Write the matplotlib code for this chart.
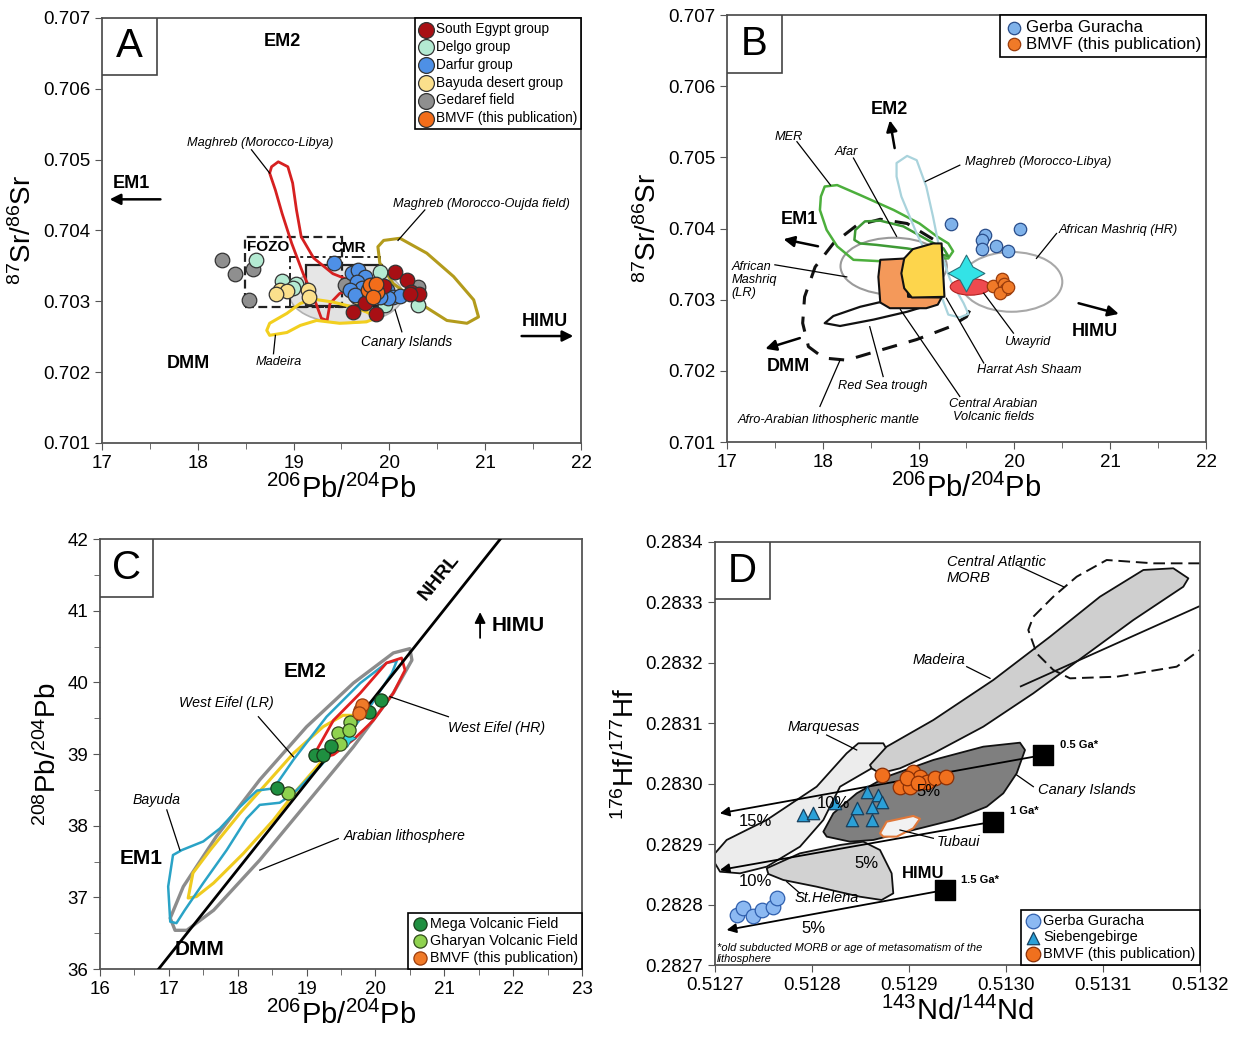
import matplotlib
matplotlib.use('Agg')
import matplotlib.pyplot as plt
from matplotlib.patches import Polygon, Ellipse, Rectangle
from matplotlib.ticker import MultipleLocator, FormatStrFormatter

plt.rcParams['font.family'] = ['Liberation Sans', 'DejaVu Sans']
plt.rcParams['mathtext.default'] = 'regular'

# ---------------- panel A data (206Pb/204Pb vs 87Sr/86Sr) ----------------
a_segypt_x = [20.06, 20.18, 20.23, 20.31, 19.75, 19.62, 19.86, 19.94, 20.22]
a_segypt_y = [0.70342, 0.70330, 0.70313, 0.70311, 0.70298, 0.70285, 0.70282, 0.70321, 0.70311]
a_delgo_x = [18.61, 18.88, 19.03, 18.99, 19.90, 20.30, 19.95]
a_delgo_y = [0.70359, 0.70329, 0.70325, 0.70319, 0.70342, 0.70295, 0.70295]
a_darfur_x = [19.42, 19.61, 19.67, 19.75, 19.66, 19.71, 19.59, 19.64, 19.97, 20.04, 20.11, 19.99, 19.90, 19.82]
a_darfur_y = [0.70354, 0.70340, 0.70344, 0.70334, 0.70327, 0.70319, 0.70316, 0.70309, 0.70316, 0.70306,
              0.70307, 0.70305, 0.70306, 0.70323]
a_bayuda_x = [18.86, 18.93, 19.15, 19.16, 19.66, 18.82]
a_bayuda_y = [0.70316, 0.70314, 0.70316, 0.70306, 0.70306, 0.70311]
a_gedaref_x = [18.25, 18.39, 18.58, 18.53, 19.54, 20.30]
a_gedaref_y = [0.70358, 0.70339, 0.70345, 0.70302, 0.70323, 0.70320]
a_bmvf_x = [19.78, 19.87, 19.80, 19.86, 19.83]
a_bmvf_y = [0.70316, 0.70313, 0.70323, 0.70325, 0.70306]

a_maghreb_libya = [(18.77, 0.70490), (18.84, 0.70497), (18.94, 0.70490), (18.99, 0.70467), (19.03, 0.70429),
                   (19.08, 0.70391), (19.21, 0.70361), (19.41, 0.70339), (19.54, 0.70332), (19.57, 0.70316),
                   (19.48, 0.70311), (19.38, 0.70297), (19.35, 0.70273), (19.29, 0.70276), (19.22, 0.70302),
                   (19.10, 0.70339), (18.98, 0.70382), (18.88, 0.70424), (18.81, 0.70457), (18.75, 0.70481)]
a_maghreb_oujda = [(19.94, 0.70386), (20.11, 0.70389), (20.39, 0.70368), (20.67, 0.70335), (20.88, 0.70302),
                   (20.93, 0.70278), (20.81, 0.70269), (20.60, 0.70273), (20.32, 0.70297), (20.04, 0.70325),
                   (19.90, 0.70354), (19.88, 0.70377)]
a_madeira = [(18.72, 0.70259), (18.75, 0.70269), (18.93, 0.70283), (19.07, 0.70297), (19.21, 0.70303),
             (19.41, 0.70299), (19.62, 0.70292), (19.76, 0.70285), (19.87, 0.70277), (19.76, 0.70271),
             (19.48, 0.70269), (19.24, 0.70273), (19.07, 0.70266), (18.93, 0.70256), (18.75, 0.70252)]
a_canary = (19.55, 0.70309, 1.18, 0.00080)          # centre x, centre y, width, height
a_fozo = (18.49, 0.70292, 19.51, 0.70391)           # x0, y0, x1, y1
a_cmr_dashdot = (18.96, 0.70292, 19.90, 0.70363)
a_cmr_box = (19.13, 0.70293, 19.92, 0.70351)

# ---------------- panel B data ----------------
b_gerba_x = [19.335, 20.06, 19.69, 19.66, 19.66, 19.81, 19.93]
b_gerba_y = [0.70407, 0.70399, 0.70391, 0.70384, 0.70371, 0.70375, 0.70369]
b_bmvf_x = [19.78, 19.87, 19.89, 19.91, 19.85, 19.93]
b_bmvf_y = [0.70319, 0.70329, 0.70322, 0.70315, 0.70310, 0.70318]

b_lith_mantle = [(19.15, 0.70385), (18.88, 0.70407), (18.60, 0.70413), (18.35, 0.70404), (18.11, 0.70379),
                 (17.92, 0.70346), (17.81, 0.70304), (17.79, 0.70267), (17.85, 0.70234), (18.01, 0.70218),
                 (18.25, 0.70215), (18.60, 0.70229), (18.98, 0.70244), (19.33, 0.70262), (19.50, 0.70276),
                 (19.57, 0.70295)]
b_mer = [(18.02, 0.70459), (18.15, 0.70461), (18.39, 0.70447), (18.74, 0.70426), (19.01, 0.70407),
         (19.19, 0.70389), (19.31, 0.70379), (19.36, 0.70368), (19.31, 0.70358), (19.15, 0.70358),
         (18.61, 0.70354), (18.32, 0.70356), (18.15, 0.70375), (18.04, 0.70398), (17.97, 0.70426),
         (17.98, 0.70445)]
b_afar = [(18.34, 0.70398), (18.44, 0.70410), (18.60, 0.70411), (18.84, 0.70403), (19.12, 0.70382),
          (19.26, 0.70372), (19.31, 0.70361), (19.19, 0.70365), (18.88, 0.70372), (18.56, 0.70377),
          (18.39, 0.70379), (18.33, 0.70384)]
b_maghreb = [(18.77, 0.70492), (18.88, 0.70502), (18.98, 0.70496), (19.08, 0.70459), (19.15, 0.70417),
             (19.22, 0.70370), (19.33, 0.70328), (19.47, 0.70295), (19.52, 0.70280), (19.43, 0.70275),
             (19.31, 0.70279), (19.24, 0.70304), (19.15, 0.70346), (18.98, 0.70393), (18.82, 0.70445),
             (18.77, 0.70473)]
b_mashriq_lr = (18.74, 0.70347, 1.11, 0.00080)
b_mashriq_hr = (19.97, 0.70325, 1.06, 0.00084)
b_red_sea = [(18.02, 0.70267), (18.11, 0.70277), (18.39, 0.70290), (18.74, 0.70301), (19.08, 0.70306),
             (19.23, 0.70303), (19.17, 0.70295), (18.88, 0.70283), (18.53, 0.70272), (18.18, 0.70263)]
b_central_arabian = [(18.60, 0.70356), (18.88, 0.70358), (18.89, 0.70304), (19.24, 0.70303), (19.20, 0.70293),
                     (19.08, 0.70288), (18.70, 0.70288), (18.60, 0.70296), (18.58, 0.70332)]
b_harrat = [(18.85, 0.70358), (18.94, 0.70371), (19.15, 0.70379), (19.24, 0.70379), (19.27, 0.70304),
            (18.93, 0.70303), (18.85, 0.70316), (18.82, 0.70337)]
b_uwayrid = (19.54, 0.70318, 0.42, 0.000234)
b_star = (19.50, 0.70337)

# ---------------- panel C data (206Pb/204Pb vs 208Pb/204Pb) ----------------
c_mega_x = [18.57, 19.12, 19.24, 19.35, 19.91, 20.08]
c_mega_y = [38.52, 38.99, 38.99, 39.11, 39.58, 39.75]
c_gharyan_x = [18.73, 19.45, 19.63, 19.61, 19.48]
c_gharyan_y = [38.46, 39.29, 39.45, 39.33, 39.14]
c_bmvf_x = [19.78, 19.81, 19.76]
c_bmvf_y = [39.62, 39.69, 39.57]
c_star = (19.58, 39.22)
c_nhrl_x = [16.6, 21.9]

c_arabian = [(17.09, 36.54), (17.02, 36.71), (17.21, 37.15), (17.69, 37.85), (18.32, 38.64), (19.00, 39.38),
             (19.68, 39.99), (20.26, 40.41), (20.50, 40.47), (20.53, 40.31), (20.26, 39.85), (19.68, 39.10),
             (19.00, 38.31), (18.32, 37.52), (17.65, 36.82), (17.26, 36.54)]
c_eifel_hr = [(19.15, 39.06), (19.39, 39.47), (19.78, 39.85), (20.16, 40.27), (20.38, 40.34), (20.43, 40.17),
              (20.26, 39.85), (19.97, 39.47), (19.68, 39.20), (19.39, 38.99), (19.19, 38.94)]
c_bayuda = [(17.02, 36.66), (16.99, 37.15), (17.06, 37.59), (17.19, 37.66), (17.50, 37.78), (17.74, 37.96),
            (18.03, 38.26), (18.28, 38.49), (18.52, 38.52), (18.81, 38.92), (19.29, 39.52), (19.78, 39.99),
            (20.16, 40.27), (20.31, 40.30), (20.24, 40.13), (19.92, 39.66), (19.58, 39.24), (19.19, 38.82),
            (18.81, 38.45), (18.61, 38.32), (18.32, 38.29), (18.13, 38.10), (17.84, 37.66), (17.50, 37.20),
            (17.23, 36.82), (17.11, 36.64)]
c_eifel_lr = [(17.28, 36.99), (17.35, 37.34), (17.60, 37.66), (18.03, 38.17), (18.42, 38.59), (18.81, 39.01),
              (19.24, 39.38), (19.53, 39.54), (19.68, 39.54), (19.58, 39.36), (19.39, 39.10), (19.15, 38.82),
              (18.86, 38.50), (18.52, 38.08), (18.08, 37.61), (17.65, 37.20), (17.40, 37.01)]

# ---------------- panel D data (143Nd/144Nd vs 176Hf/177Hf), units of 1e-4 above 0.5127 / 0.2827 ----------------
d_gerba_x = [0.223, 0.292, 0.388, 0.481, 0.601, 0.643]
d_gerba_y = [0.828, 0.938, 0.811, 0.910, 0.965, 1.103]
d_sieb_x = [0.910, 1.013, 1.564, 1.684, 1.718, 1.615, 1.461, 1.409, 1.615, 1.237]
d_sieb_y = [2.482, 2.520, 2.868, 2.813, 2.703, 2.620, 2.593, 2.400, 2.400, 2.676]
d_bmvf_x = [1.718, 1.907, 2.010, 2.044, 2.113, 2.182, 2.268, 2.381, 1.976, 2.096]
d_bmvf_y = [3.145, 2.951, 2.951, 3.199, 3.117, 3.034, 3.089, 3.117, 3.089, 3.006]

d_morb = [(5.0, 6.647), (4.519, 6.647), (4.038, 6.702), (3.729, 6.426), (3.488, 6.095), (3.282, 5.764),
          (3.230, 5.544), (3.316, 5.158), (3.488, 4.882), (3.660, 4.744), (4.141, 4.771), (4.760, 4.937),
          (5.0, 5.213)]
d_madeira = [(1.615, 3.255), (1.598, 3.310), (1.770, 3.613), (2.251, 4.054), (2.869, 4.716), (3.454, 5.433),
             (3.969, 6.095), (4.416, 6.537), (4.725, 6.565), (4.880, 6.399), (4.828, 6.260), (4.313, 5.709),
             (3.797, 5.102), (3.282, 4.496), (2.766, 3.944), (2.251, 3.503), (1.907, 3.255), (1.701, 3.172)]
d_madeira_edge = [(3.144, 4.605), (5.0, 5.941)]
d_marquesas = [(0.0, 1.848), (0.120, 2.069), (0.533, 2.400), (1.048, 2.951), (1.357, 3.503), (1.478, 3.669),
               (1.735, 3.669), (1.770, 3.570), (1.615, 3.255), (1.289, 2.951), (1.117, 2.400), (0.876, 1.958),
               (0.533, 1.627), (0.258, 1.517), (0.052, 1.544), (0.0, 1.683)]
d_sthelena = [(0.533, 1.600), (0.876, 1.848), (1.289, 1.986), (1.529, 2.041), (1.701, 1.903), (1.821, 1.517),
              (1.838, 1.186), (1.718, 1.076), (1.495, 1.130), (1.048, 1.296), (0.704, 1.407), (0.550, 1.506)]
d_canary = [(1.117, 2.206), (1.220, 2.510), (1.461, 2.841), (1.770, 3.117), (2.251, 3.393), (2.766, 3.613),
            (3.144, 3.679), (3.196, 3.558), (3.110, 3.172), (2.972, 2.841), (2.801, 2.620), (2.457, 2.400),
            (2.044, 2.234), (1.632, 2.069), (1.392, 2.041), (1.152, 2.124)]
d_tubaui = [(1.701, 2.179), (1.770, 2.372), (2.044, 2.466), (2.113, 2.421), (2.044, 2.262), (1.873, 2.124),
            (1.735, 2.124)]
d_ages = ['0.5 Ga*', '1 Ga*', '1.5 Ga*']
d_age_x = [3.385, 2.869, 2.371]
d_age_y = [3.475, 2.372, 1.241]
d_tip_x = [0.05, 0.05, 0.12]
d_tip_y = [2.510, 1.572, 0.579]


def nd(v):
    return 0.5127 + v * 1e-4


def hf(v):
    return 0.2827 + v * 1e-4


def shape(ax, pts, ec, lw=2.0, fc='none', ls='-', closed=True, z=2):
    ax.add_patch(Polygon(pts, closed=closed, facecolor=fc, edgecolor=ec, linewidth=lw,
                         linestyle=ls, joinstyle='round', zorder=z))


def leader(ax, x1, y1, x2, y2):
    ax.plot([x1, x2], [y1, y2], color='k', lw=0.9, zorder=3)


def arrow(ax, tail, tip, lw=1.8):
    ax.annotate('', xy=tip, xytext=tail,
                arrowprops=dict(arrowstyle='-|>', color='k', lw=lw, mutation_scale=16, shrinkA=0, shrinkB=0))


def style_axes(ax, letter, box_w, box_h):
    for s in ax.spines.values():
        s.set_color('#555555')
        s.set_linewidth(1.3)
    ax.tick_params(which='both', direction='out', color='#555555', labelsize=13.5, top=False, right=False)
    ax.tick_params(which='major', length=5)
    ax.tick_params(which='minor', length=4)
    ax.add_patch(Rectangle((0, 1 - box_h), box_w, box_h, transform=ax.transAxes, facecolor='white',
                           edgecolor='#444444', lw=1.2, zorder=6))
    ax.text(box_w / 2, 1 - box_h / 2, letter, transform=ax.transAxes, ha='center', va='center',
            fontsize=29, zorder=7)


def italic(ax, x, y, s, size=9.2, **kw):
    ax.text(x, y, s, fontsize=size, style='italic', ha=kw.pop('ha', 'center'), va=kw.pop('va', 'center'),
            zorder=5, **kw)


def bold(ax, x, y, s, size=13, **kw):
    ax.text(x, y, s, fontsize=size, fontweight='bold', ha=kw.pop('ha', 'center'), va='center', zorder=5, **kw)


def legend(ax, loc, size, spacing=0.25, handles=None):
    kw = {} if handles is None else {'handles': handles}
    lg = ax.legend(loc=loc, fontsize=size, frameon=True, fancybox=False, framealpha=1, edgecolor='black',
                   borderaxespad=0, handletextpad=0.2, borderpad=0.3, labelspacing=spacing,
                   handlelength=1.0, **kw)
    lg.get_frame().set_linewidth(1.2)
    lg.set_zorder(8)


fig = plt.figure(figsize=(12.51, 10.37), dpi=100)

# ============================ A ============================
axA = fig.add_axes([0.08153, 0.57281, 0.3829, 0.40984])
axA.set_xlim(17, 22)
axA.set_ylim(0.701, 0.707)
axA.xaxis.set_major_locator(MultipleLocator(1))
axA.xaxis.set_minor_locator(MultipleLocator(0.5))
axA.yaxis.set_major_locator(MultipleLocator(0.001))
axA.yaxis.set_major_formatter(FormatStrFormatter('%.3f'))

cx, cy, cw, ch = a_canary
axA.add_patch(Ellipse((cx, cy), cw, ch, facecolor='#e2e2e2', edgecolor='#b0b0b0', lw=1.2, zorder=1))
x0, y0, x1, y1 = a_cmr_box
axA.add_patch(Rectangle((x0, y0), x1 - x0, y1 - y0, facecolor='#e6e6e6', edgecolor='#222222', lw=1.6, zorder=1.5))
x0, y0, x1, y1 = a_fozo
axA.add_patch(Rectangle((x0, y0), x1 - x0, y1 - y0, facecolor='none', edgecolor='#222222', lw=1.6,
                        ls=(0, (4, 2)), zorder=2))
x0, y0, x1, y1 = a_cmr_dashdot
axA.add_patch(Rectangle((x0, y0), x1 - x0, y1 - y0, facecolor='none', edgecolor='#222222', lw=1.4,
                        ls=(0, (6, 2, 1.5, 2)), zorder=2))
shape(axA, a_maghreb_libya, '#d62020', lw=2.0)
shape(axA, a_maghreb_oujda, '#b39b1c', lw=2.2)
shape(axA, a_madeira, '#f2cf1f', lw=2.2)

mk = dict(s=110, edgecolors='#333333', linewidths=0.9, zorder=4)
axA.scatter(a_gedaref_x, a_gedaref_y, c='#8f8f8f', **mk)
axA.scatter(a_delgo_x, a_delgo_y, c='#b4ead2', **mk)
axA.scatter(a_bayuda_x, a_bayuda_y, c='#fbe08c', **mk)
axA.scatter(a_darfur_x, a_darfur_y, c='#4e90e6', **mk)
axA.scatter(a_segypt_x, a_segypt_y, c='#a80f14', **mk)
axA.scatter(a_bmvf_x, a_bmvf_y, c='#f36d1a', **mk)
# legend handles in the reference order
hA = []
for lab, col in [('South Egypt group', '#a80f14'), ('Delgo group', '#b4ead2'), ('Darfur group', '#4e90e6'),
                 ('Bayuda desert group', '#fbe08c'), ('Gedaref field', '#8f8f8f'),
                 ('BMVF (this publication)', '#f36d1a')]:
    hA.append(axA.scatter([], [], c=col, s=130, edgecolors='#333333', linewidths=0.9, label=lab))
legend(axA, 'upper right', 9.8, spacing=0.28, handles=hA)

bold(axA, 18.88, 0.70667, 'EM2')
bold(axA, 17.31, 0.70466, 'EM1')
arrow(axA, (17.61, 0.70444), (17.08, 0.70444))
bold(axA, 21.62, 0.70271, 'HIMU')
arrow(axA, (21.38, 0.70251), (21.92, 0.70251))
bold(axA, 17.90, 0.70212, 'DMM')
bold(axA, 18.51, 0.70377, 'FOZO', size=11, ha='left')
bold(axA, 19.57, 0.70375, 'CMR', size=11)
italic(axA, 18.65, 0.70523, 'Maghreb (Morocco-Libya)')
leader(axA, 18.56, 0.70514, 18.75, 0.70481)
italic(axA, 20.96, 0.70438, 'Maghreb (Morocco-Oujda field)')
leader(axA, 20.37, 0.70429, 20.09, 0.70386)
italic(axA, 20.18, 0.70243, 'Canary Islands', size=9.8)
leader(axA, 20.13, 0.70257, 20.06, 0.70288)
italic(axA, 18.85, 0.70215, 'Madeira')
leader(axA, 18.79, 0.70226, 18.81, 0.70252)
axA.set_xlabel('$^{206}$Pb/$^{204}$Pb', fontsize=21, labelpad=2)
axA.set_ylabel('$^{87}$Sr/$^{86}$Sr', fontsize=20, labelpad=4)
style_axes(axA, 'A', 0.115, 0.134)

# ============================ B ============================
axB = fig.add_axes([0.58113, 0.57377, 0.3829, 0.41176])
axB.set_xlim(17, 22)
axB.set_ylim(0.701, 0.707)
axB.xaxis.set_major_locator(MultipleLocator(1))
axB.xaxis.set_minor_locator(MultipleLocator(0.5))
axB.yaxis.set_major_locator(MultipleLocator(0.001))
axB.yaxis.set_major_formatter(FormatStrFormatter('%.3f'))

shape(axB, b_lith_mantle, '#111111', lw=2.2, ls=(0, (5, 4)), closed=False)
cx, cy, cw, ch = b_mashriq_lr
axB.add_patch(Ellipse((cx, cy), cw, ch, facecolor='none', edgecolor='#9a9a9a', lw=1.5, zorder=2))
cx, cy, cw, ch = b_mashriq_hr
axB.add_patch(Ellipse((cx, cy), cw, ch, facecolor='none', edgecolor='#a8a8a8', lw=1.5, zorder=2))
shape(axB, b_mer, '#4caf3c', lw=1.8)
shape(axB, b_afar, '#3e9a35', lw=1.8)
shape(axB, b_maghreb, '#a9d3dc', lw=1.6)
shape(axB, b_red_sea, '#111111', lw=1.6)
shape(axB, b_central_arabian, '#111111', lw=1.5, fc='#f4995a', z=3)
shape(axB, b_harrat, '#111111', lw=1.5, fc='#fdd54c', z=3.1)
cx, cy, cw, ch = b_uwayrid
axB.add_patch(Ellipse((cx, cy), cw, ch, facecolor='#ef4a4f', edgecolor='#b02020', lw=0.8, zorder=3))
axB.scatter([b_star[0]], [b_star[1]], marker=(4, 1, 0), s=700, c='#33e3e6', edgecolors='#2a6f78',
            linewidths=0.8, zorder=4.5)
axB.scatter(b_gerba_x, b_gerba_y, c='#7fb2ea', s=80, edgecolors='#294d8a', linewidths=0.9, zorder=4,
            label='Gerba Guracha')
axB.scatter(b_bmvf_x, b_bmvf_y, c='#f07a28', s=80, edgecolors='#9a3c0c', linewidths=0.9, zorder=4,
            label='BMVF (this publication)')
legend(axB, 'upper right', 12.2, spacing=0.1)

bold(axB, 18.70, 0.70567, 'EM2')
arrow(axB, (18.75, 0.70513), (18.70, 0.70552))
bold(axB, 17.76, 0.70412, 'EM1')
arrow(axB, (17.95, 0.70375), (17.59, 0.70385))
bold(axB, 17.64, 0.70206, 'DMM')
arrow(axB, (17.76, 0.70246), (17.40, 0.70231))
bold(axB, 20.84, 0.70255, 'HIMU')
arrow(axB, (20.67, 0.70295), (21.09, 0.70280))
italic(axB, 17.64, 0.70529, 'MER')
leader(axB, 17.73, 0.70522, 18.08, 0.70461)
italic(axB, 18.25, 0.70508, 'Afar')
leader(axB, 18.32, 0.70499, 18.77, 0.70389)
italic(axB, 20.25, 0.70494, 'Maghreb (Morocco-Libya)')
leader(axB, 19.43, 0.70489, 19.07, 0.70466)
italic(axB, 21.08, 0.70398, 'African Mashriq (HR)')
leader(axB, 20.44, 0.70393, 20.23, 0.70358)
italic(axB, 17.05, 0.70328, 'African\nMashriq\n(LR)', ha='left', linespacing=1.1)
leader(axB, 17.50, 0.70349, 18.25, 0.70332)
italic(axB, 20.13, 0.70241, 'Uwayrid')
leader(axB, 19.99, 0.70253, 19.68, 0.70309)
italic(axB, 20.16, 0.70201, 'Harrat Ash Shaam')
leader(axB, 19.68, 0.70211, 19.29, 0.70302)
italic(axB, 18.63, 0.70178, 'Red Sea trough')
leader(axB, 18.63, 0.70192, 18.49, 0.70262)
italic(axB, 19.78, 0.70144, 'Central Arabian\nVolcanic fields', linespacing=1.1)
leader(axB, 19.43, 0.70164, 18.81, 0.70286)
italic(axB, 18.06, 0.70131, 'Afro-Arabian lithospheric mantle')
leader(axB, 17.97, 0.70150, 18.18, 0.70215)
axB.set_xlabel('$^{206}$Pb/$^{204}$Pb', fontsize=21, labelpad=2)
axB.set_ylabel('$^{87}$Sr/$^{86}$Sr', fontsize=20, labelpad=4)
style_axes(axB, 'B', 0.115, 0.136)

# ============================ C ============================
axC = fig.add_axes([0.07994, 0.06557, 0.38529, 0.41466])
axC.set_xlim(16, 23)
axC.set_ylim(36, 42)
axC.xaxis.set_major_locator(MultipleLocator(1))
axC.xaxis.set_minor_locator(MultipleLocator(0.5))
axC.yaxis.set_major_locator(MultipleLocator(1))
axC.yaxis.set_minor_locator(MultipleLocator(0.5))

# Northern Hemisphere Reference Line (Hart 1984)
c_nhrl_y = [1.209 * v + 15.627 for v in c_nhrl_x]
axC.plot(c_nhrl_x, c_nhrl_y, color='k', lw=2.0, zorder=3)
shape(axC, c_arabian, '#8c8c8c', lw=2.4)
shape(axC, c_eifel_lr, '#efcb1f', lw=2.2)
shape(axC, c_bayuda, '#2aa3c6', lw=1.8)
shape(axC, c_eifel_hr, '#e02020', lw=2.0)
axC.scatter([c_star[0]], [c_star[1]], marker=(4, 1, 0), s=160, c='#33d6e6', edgecolors='#2a6f78',
            linewidths=0.6, zorder=4)
axC.scatter(c_mega_x, c_mega_y, c='#1f8f40', s=90, edgecolors='#1a3a1a', linewidths=0.9, zorder=4.2,
            label='Mega Volcanic Field')
axC.scatter(c_gharyan_x, c_gharyan_y, c='#8fd24f', s=90, edgecolors='#2f4a1a', linewidths=0.9, zorder=4.1,
            label='Gharyan Volcanic Field')
axC.scatter(c_bmvf_x, c_bmvf_y, c='#f07a28', s=90, edgecolors='#9a3c0c', linewidths=0.9, zorder=4.3,
            label='BMVF (this publication)')
legend(axC, 'lower right', 10.3, spacing=0.2)

axC.text(20.93, 41.47, 'NHRL', fontsize=14, fontweight='bold', rotation=50.8, ha='center', va='center')
bold(axC, 18.98, 40.15, 'EM2', size=15)
bold(axC, 22.08, 40.80, 'HIMU', size=15)
arrow(axC, (21.52, 40.62), (21.52, 40.98), lw=1.3)
bold(axC, 16.60, 37.54, 'EM1', size=15)
bold(axC, 17.45, 36.27, 'DMM', size=15)
italic(axC, 17.84, 39.71, 'West Eifel (LR)', size=10.2)
leader(axC, 18.30, 39.52, 18.81, 38.96)
italic(axC, 21.76, 39.36, 'West Eifel (HR)', size=10.2)
leader(axC, 21.06, 39.52, 20.21, 39.80)
italic(axC, 16.82, 38.36, 'Bayuda', size=10.2)
leader(axC, 16.97, 38.22, 17.16, 37.66)
italic(axC, 20.43, 37.85, 'Arabian lithosphere', size=10.2)
leader(axC, 19.46, 37.82, 18.32, 37.38)
axC.set_xlabel('$^{206}$Pb/$^{204}$Pb', fontsize=21, labelpad=2)
axC.set_ylabel('$^{208}$Pb/$^{204}$Pb', fontsize=20, labelpad=4)
style_axes(axC, 'C', 0.11, 0.135)

# ============================ D ============================
axD = fig.add_axes([0.57154, 0.06943, 0.38769, 0.40791])
axD.set_xlim(0.5127, 0.5132)
axD.set_ylim(0.2827, 0.2834)
axD.xaxis.set_major_locator(MultipleLocator(0.0001))
axD.yaxis.set_major_locator(MultipleLocator(0.0001))
axD.xaxis.set_major_formatter(FormatStrFormatter('%.4f'))
axD.yaxis.set_major_formatter(FormatStrFormatter('%.4f'))


def dpts(pts):
    return [(nd(a), hf(b)) for a, b in pts]


shape(axD, dpts(d_marquesas), '#111111', lw=1.3, fc='#ececec', z=1.5)
shape(axD, dpts(d_sthelena), '#111111', lw=1.3, fc='#d2d2d2', z=1.6)
shape(axD, dpts(d_canary), '#111111', lw=1.3, fc='#7f7f7f', z=1.7)
shape(axD, dpts(d_madeira), '#111111', lw=1.3, fc='#cfcfcf', z=1.8)
shape(axD, dpts(d_madeira_edge), '#111111', lw=1.3, closed=False, z=1.8)
shape(axD, dpts(d_tubaui), '#e0783a', lw=1.5, fc='#f2f2f2', z=1.9)
shape(axD, dpts(d_morb), '#111111', lw=1.4, ls=(0, (6, 3)), closed=False, z=2)

for lab, ax_, ay_, tx, ty in zip(d_ages, d_age_x, d_age_y, d_tip_x, d_tip_y):
    axD.annotate('', xy=(nd(tx), hf(ty)), xytext=(nd(ax_), hf(ay_)),
                 arrowprops=dict(arrowstyle='-|>', color='k', lw=1.3, mutation_scale=14, shrinkA=0, shrinkB=0),
                 zorder=3)
    axD.scatter([nd(ax_)], [hf(ay_)], marker='s', s=200, c='black', zorder=3.5)
    axD.text(nd(ax_ + 0.17), hf(ay_ + 0.17), lab, fontsize=8, fontweight='bold', ha='left', va='center')

axD.scatter([nd(v) for v in d_gerba_x], [hf(v) for v in d_gerba_y], c='#8cb9f2', s=110,
            edgecolors='#2f5fae', linewidths=0.9, zorder=4, label='Gerba Guracha')
axD.scatter([nd(v) for v in d_sieb_x], [hf(v) for v in d_sieb_y], marker='^', c='#2aa0d8', s=80,
            edgecolors='#17405e', linewidths=0.9, zorder=4, label='Siebengebirge')
axD.scatter([nd(v) for v in d_bmvf_x], [hf(v) for v in d_bmvf_y], c='#f0701e', s=110,
            edgecolors='#8a2f05', linewidths=0.9, zorder=4, label='BMVF (this publication)')
legend(axD, 'lower right', 10.5, spacing=0.15)

for s_, xv, yv in [('5%', 2.199, 2.868), ('10%', 1.220, 2.676), ('15%', 0.412, 2.372),
                   ('5%', 1.564, 1.683), ('10%', 0.412, 1.379), ('5%', 1.013, 0.607)]:
    axD.text(nd(xv), hf(yv), s_, fontsize=12, ha='center', va='center', zorder=5)
bold(axD, nd(2.148), hf(1.517), 'HIMU', size=12)
italic(axD, nd(2.388), hf(6.537), 'Central Atlantic\nMORB', size=10.5, ha='left', linespacing=1.1)
leader(axD, nd(3.144), hf(6.592), nd(3.591), hf(6.261))
italic(axD, nd(2.313), hf(5.047), 'Madeira', size=10.5)
leader(axD, nd(2.595), hf(4.937), nd(2.835), hf(4.744))
italic(axD, nd(1.117), hf(3.933), 'Marquesas', size=10.5)
leader(axD, nd(1.151), hf(3.806), nd(1.461), hf(3.558))
italic(axD, nd(3.832), hf(2.896), 'Canary Islands', size=10.5)
leader(axD, nd(3.282), hf(2.951), nd(3.110), hf(3.145))
italic(axD, nd(2.509), hf(2.041), 'Tubaui', size=10.5)
leader(axD, nd(2.251), hf(2.097), nd(1.907), hf(2.234))
italic(axD, nd(1.151), hf(1.103), 'St.Helena', size=10.5)
leader(axD, nd(0.876), hf(1.186), nd(0.739), hf(1.379))
italic(axD, nd(0.02), hf(0.19), '*old subducted MORB or age of metasomatism of the\nlithosphere', size=8,
       ha='left', linespacing=1.2)
axD.set_xlabel('$^{143}$Nd/$^{144}$Nd', fontsize=21, labelpad=2)
axD.set_ylabel('$^{176}$Hf/$^{177}$Hf', fontsize=20, labelpad=4)
style_axes(axD, 'D', 0.113, 0.135)

fig.savefig('out.png', dpi=100)
